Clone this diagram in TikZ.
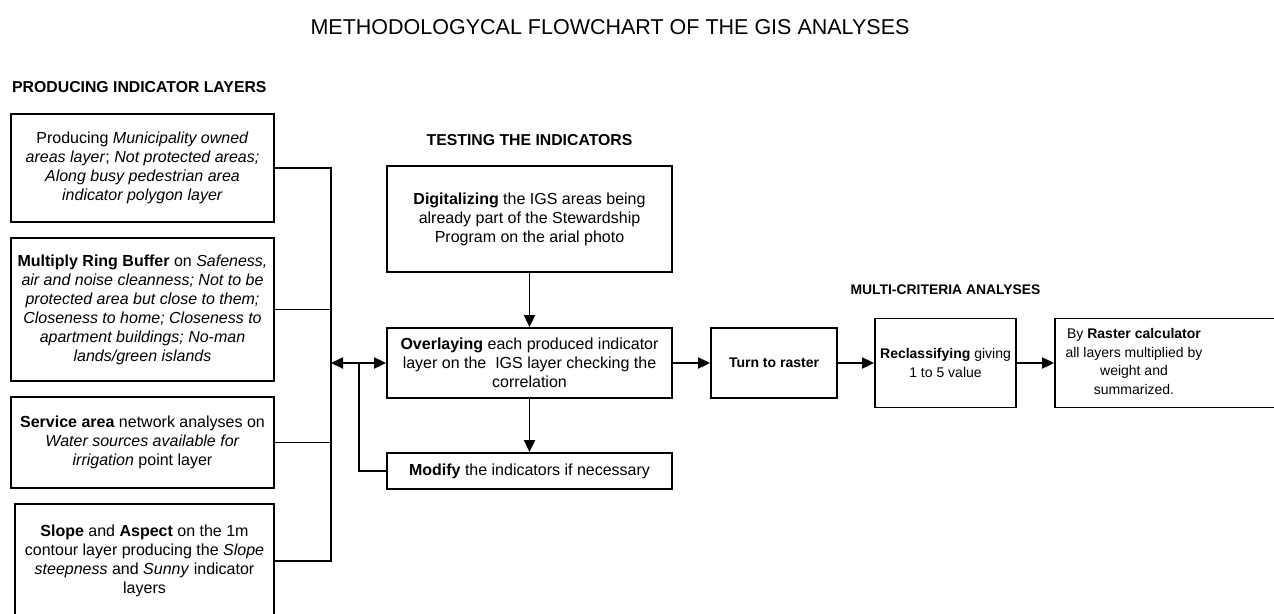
\documentclass[tikz,border=0pt]{standalone}
\usepackage{fontspec}
\setmainfont{Liberation Sans}
\usetikzlibrary{arrows.meta}
\begin{document}
\begin{tikzpicture}[x=1pt,y=-1pt,
  box/.style={draw,line width=1.8pt,inner sep=0pt,align=center,font=\fontsize{16}{19}\selectfont},
  sbox/.style={box,font=\fontsize{14}{18.5}\selectfont},
  conn/.style={line width=1.8pt},
  arr/.style={conn,-{Triangle[length=12pt,width=11pt]}},
  biarr/.style={conn,{Triangle[length=12pt,width=11pt]}-{Triangle[length=12pt,width=11pt]}},
  sect/.style={font=\fontsize{15.8}{17}\selectfont\bfseries},
  ssect/.style={font=\fontsize{13.9}{16}\selectfont\bfseries}]
\useasboundingbox (0,0) rectangle (1274,613);
\clip (0,0) rectangle (1274,613);
\fill[white] (0,0) rectangle (1274,613);

\node[font=\fontsize{21.5}{23}\selectfont] (title) at (610,27) {METHODOLOGYCAL FLOWCHART OF THE GIS ANALYSES};
\node[sect,anchor=west,inner sep=0pt] (s1) at (12,87) {PRODUCING INDICATOR LAYERS};
\node[sect] (s2) at (529.5,140) {TESTING THE INDICATORS};
\node[ssect] (s3) at (945.5,290) {MULTI-CRITERIA ANALYSES};

\node[box,minimum width=263pt,minimum height=108pt] (b1) at (142.5,168)
 {Producing \textit{Municipality owned}\\ \textit{areas layer}; \textit{Not protected areas;}\\ \textit{Along busy pedestrian area}\\ \textit{indicator polygon layer}};
\node[box,minimum width=263pt,minimum height=143pt] (b2) at (142.5,309.5)
 {\textbf{Multiply Ring Buffer} on \textit{Safeness,}\\ \textit{air and noise cleanness; Not to be}\\ \textit{protected area but close to them;}\\ \textit{Closeness to home; Closeness to}\\ \textit{apartment buildings; No-man}\\ \textit{lands/green islands}};
\node[box,minimum width=263pt,minimum height=91pt] (b3) at (142.5,442.5)
 {\textbf{Service area} network analyses on\\ \textit{Water sources available for}\\ \textit{irrigation} point layer};
\node[box,minimum width=259pt,minimum height=114pt] (b4) at (144.5,561)
 {\textbf{Slope} and \textbf{Aspect} on the 1m\\ contour layer producing the \textit{Slope}\\ \textit{steepness} and \textit{Sunny} indicator\\ layers};

\node[box,minimum width=285pt,minimum height=106pt] (dig) at (529.5,219)
 {\textbf{Digitalizing} the IGS areas being\\ already part of the Stewardship\\ Program on the arial photo};
\node[box,minimum width=285pt,minimum height=70pt] (ovl) at (529.5,363)
 {\textbf{Overlaying} each produced indicator\\ layer on the \ IGS layer checking the\\ correlation};
\node[box,minimum width=285pt,minimum height=36pt] (mod) at (529.5,471)
 {\textbf{Modify} the indicators if necessary};

\node[sbox,minimum width=126pt,minimum height=70pt] (tur) at (774,363) {\textbf{Turn to raster}};
\node[sbox,minimum width=141pt,minimum height=89pt] (rec) at (945.5,363)
 {\textbf{Reclassifying} giving\\ 1 to 5 value};
\node[sbox,minimum width=245pt,minimum height=89pt] (ras) at (1177.5,363)
 {\begin{tabular}{@{}c@{}}By \textbf{Raster calculator}\\ all layers multiplied by\\ weight and\\ summarized.\end{tabular}\hspace*{87pt}};

\coordinate (bt) at (331,168);
\coordinate (bb) at (331,561);
\coordinate (j) at (359,363);
\draw[conn] (b1.east) -- (bt) -- (bb) -- (b4.east);
\draw[conn] (b2.east) -- (b2.east -| bt);
\draw[conn] (b3.east) -- (b3.east -| bt);
\draw[biarr] (ovl.west -| bt) -- (ovl.west);
\draw[conn] (j) |- (mod.west);
\draw[arr] (dig.south) -- (ovl.north);
\draw[arr] (ovl.south) -- (mod.north);
\draw[arr] (ovl.east) -- (tur.west);
\draw[arr] (tur.east) -- (rec.west);
\draw[arr] (rec.east) -- (ras.west);
\end{tikzpicture}
\end{document}
